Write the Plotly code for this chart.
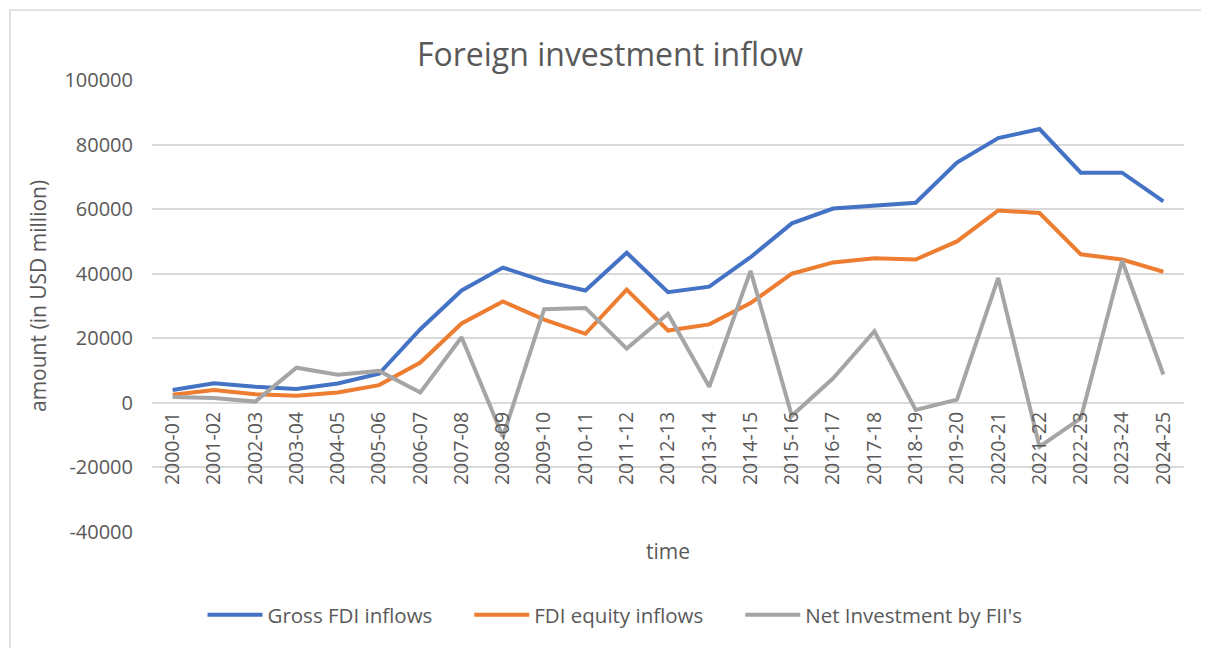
import plotly.graph_objects as go

categories = ["2000-01", "2001-02", "2002-03", "2003-04", "2004-05", "2005-06", "2006-07",
              "2007-08", "2008-09", "2009-10", "2010-11", "2011-12", "2012-13", "2013-14",
              "2014-15", "2015-16", "2016-17", "2017-18", "2018-19", "2019-20", "2020-21",
              "2021-22", "2022-23", "2023-24", "2024-25"]

gross_fdi = [4000, 6100, 5000, 4300, 6000, 9000, 22800, 34800, 41900, 37700, 34800, 46500,
             34300, 36000, 45100, 55600, 60200, 61000, 62000, 74400, 82000, 84800, 71300,
             71300, 62400]
fdi_equity = [2500, 4000, 2700, 2200, 3200, 5500, 12500, 24600, 31400, 25800, 21400, 35100,
              22400, 24300, 30900, 40000, 43500, 44800, 44400, 50000, 59600, 58800, 46000,
              44400, 40600]
net_fii = [1800, 1500, 400, 10900, 8700, 9900, 3200, 20300, -10500, 29000, 29400, 16800,
           27600, 5000, 40900, -4000, 7600, 22200, -2200, 1000, 38700, -13600, -4800,
           44100, 8800]

tick_vals = [-40000, -20000, 0, 20000, 40000, 60000, 80000, 100000]
tick_text = ["-40000", "-20000", "0", "20000", "40000", "60000", "80000", "100000"]

W, H = 1209, 648
OFF = 8  # page body margin offset
L, R, T, B = 152 - OFF, 1184 - OFF, 80 - OFF, 532 - OFF
pw, ph = R - L, B - T

def px_x(x):
    return (x - OFF - L) / pw

def px_y(y):
    return (B - (y - OFF)) / ph

FONT = "Open Sans"
TXT = "#595959"
GRID = "#D9D9D9"
NB = "\u00a0"

fig = go.Figure()
for name, vals, col in [("Gross FDI inflows" + NB * 6, gross_fdi, "#4472C4"),
                        ("FDI equity inflows" + NB * 6, fdi_equity, "#ED7D31"),
                        ("Net Investment by FII's", net_fii, "#A5A5A5")]:
    fig.add_trace(go.Scatter(x=categories, y=vals, mode="lines", name=name,
                             line=dict(color=col, width=4)))

fig.update_layout(
    width=W, height=H,
    margin=dict(l=L, r=W - R, t=T, b=H - B),
    paper_bgcolor="white", plot_bgcolor="white",
    font=dict(family=FONT, color=TXT, size=18),
    title=dict(text="Foreign investment inflow", x=(610 - OFF) / W, xanchor="center",
               y=1 - (55 - OFF) / H, yanchor="middle",
               font=dict(family=FONT, size=32, color=TXT)),
    showlegend=True,
    legend=dict(orientation="h", x=px_x(615), xanchor="center", y=px_y(615),
                yanchor="middle", font=dict(family=FONT, size=20.5, color=TXT),
                itemwidth=55, tracegroupgap=0, bgcolor="rgba(0,0,0,0)"),
    xaxis=dict(type="category", range=[-0.5, 24.5], tickangle=-90,
               anchor="free", position=px_y(403), showgrid=False, showline=False,
               zeroline=False, ticks="", tickfont=dict(family=FONT, size=19.5, color=TXT),
               ticklabelstandoff=4),
    yaxis=dict(range=[-40000, 100000], tickvals=tick_vals, ticktext=tick_text,
               showgrid=True, gridcolor=GRID, gridwidth=1.5, zeroline=True,
               zerolinecolor=GRID, zerolinewidth=1.5, showline=False, ticks="",
               tickfont=dict(family=FONT, size=20, color=TXT), ticklabelstandoff=18),
    annotations=[
        dict(text="time", x=px_x(668), y=px_y(551), xref="paper", yref="paper",
             showarrow=False, xanchor="center", yanchor="middle",
             font=dict(family=FONT, size=21, color=TXT)),
        dict(text="amount (in USD million)", x=px_x(38), y=px_y(296), xref="paper",
             yref="paper", showarrow=False, textangle=-90, xanchor="center",
             yanchor="middle", font=dict(family=FONT, size=21, color=TXT)),
    ],
    shapes=[dict(type="rect", xref="paper", yref="paper", x0=px_x(10), x1=px_x(1230),
                 y0=px_y(680), y1=px_y(10), line=dict(color=GRID, width=1.5),
                 fillcolor="rgba(0,0,0,0)", layer="below")],
)

fig.write_html("out.html")
